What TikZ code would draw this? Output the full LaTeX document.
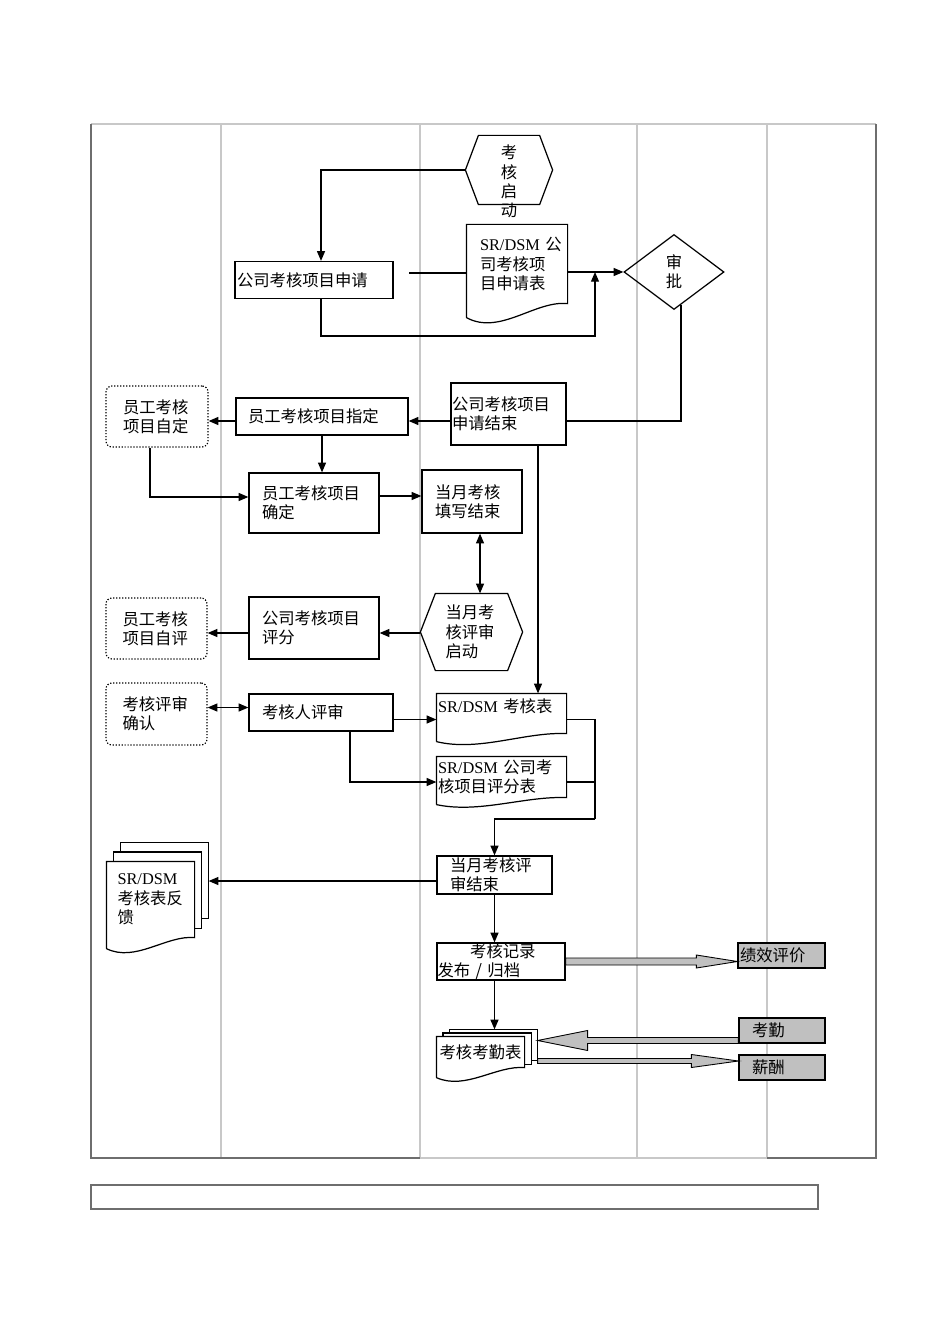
\documentclass[tikz,border=0pt]{standalone}
\usepackage{fontspec}
\setmainfont{Liberation Serif}
\newfontfamily\cjk{Noto Sans CJK SC}
\usepackage{tikz}
\usetikzlibrary{arrows.meta,calc,shapes.geometric}
\newlength\px
\setlength\px{0.02cm}
\definecolor{Lane}{HTML}{C8C8C8}
\definecolor{Frame}{HTML}{6E6E6E}
\definecolor{Shade}{HTML}{C0C0C0}
\newcommand{\en}[1]{{\rmfamily #1}}
% document outline with a wavy foot
\newcommand{\docwave}[2]{%
  \draw ($(#1.south west)+(0,#2)$) -- (#1.north west) -- (#1.north east) -- (#1.south east)
    .. controls ($(#1.south east)!0.32!(#1.south west)+(0,-0.25*#2)$) and ($(#1.south east)!0.67!(#1.south west)+(0,2.3*#2)$) .. ($(#1.south west)+(0,#2)$);}
% pages behind a document
\newcommand{\docpages}[3]{%
  \foreach \k in {1,2}{
    \draw ($(#1.north west)+(\k*#2,-\k*#3+#3)$) -- ($(#1.north west)+(\k*#2,-\k*#3)$)
      -- ($(#1.north east)+(\k*#2,-\k*#3)$) -- ($(#1.south east)+(\k*#2,-\k*#3)$)
      -- ($(#1.south east)+(\k*#2-#2,-\k*#3)$);
  }}
% hexagon outline round a node
\newcommand{\hexa}[2]{%
  \draw (#1.west) -- ($(#1.north west)+(#2,0)$) -- ($(#1.north east)+(-#2,0)$) -- (#1.east)
    -- ($(#1.south east)+(-#2,0)$) -- ($(#1.south west)+(#2,0)$) -- cycle;}
% wide grey arrow: from, tip, head offset, shaft half, head half
\newcommand{\blockarrow}[5]{%
  \draw[fill=Shade,line width=0.5pt] ($(#1)+(0,-#4)$) -- ($(#2)+(#3,-#4)$) -- ($(#2)+(#3,-#5)$) -- (#2)
    -- ($(#2)+(#3,#5)$) -- ($(#2)+(#3,#4)$) -- ($(#1)+(0,#4)$) -- cycle;}

\begin{document}
\begin{tikzpicture}[x=0.02cm,y=-0.02cm,line width=0.7pt,
    font=\cjk\fontsize{9.3pt}{11pt}\selectfont,
    box/.style={rectangle,draw,inner sep=0pt,align=left},
    selfbox/.style={rectangle,draw,densely dotted,rounded corners=6\px,inner sep=0pt,align=left},
    docnode/.style={rectangle,inner sep=0pt,align=left},
    greybox/.style={box,fill=Shade},
    arr/.style={-{Triangle[length=5.5pt,width=4.5pt]}},
    arrs/.style={{Triangle[length=5.5pt,width=4.5pt]}-{Triangle[length=5.5pt,width=4.5pt]}}
]
\useasboundingbox (0,0) rectangle (950,1344);
% lanes and frame
\foreach \x in {221,420,637,767}
  \draw[Lane,line width=0.6pt] (\x,124) -- (\x,1158);
\draw[Lane,line width=0.6pt] (91,124) -- (876,124);
\draw[Frame] (91,124) -- (91,1158) -- (420,1158);
\draw[Lane] (420,1158) -- (767,1158);
\draw[Frame] (767,1158) -- (876,1158) -- (876,124);
\draw[Frame] (91,1185) rectangle (818,1209);

% application
\node[docnode,minimum width=86\px,minimum height=68\px] (start) at (509,170)
  {\parbox[c][68\px][t]{20\px}{\centering\vspace*{9\px}考\\核\\启\\动}};
\hexa{start}{13}
\node[box,minimum width=158\px,minimum height=37\px,text width=154\px] (apply) at (314,280) {公司考核项目申请};
\node[docnode,minimum width=100\px,minimum height=78\px,text width=74\px] (appform) at (517,264) {\en{SR/DSM}~公\\司考核项\\目申请表};
\docwave{appform}{14}
\node[diamond,draw,inner sep=0pt,minimum width=100\px,minimum height=75\px,align=center] (appr) at (674,272) {审\\批};
\node[box,minimum width=115\px,minimum height=62\px,text width=113\px] (append) at (508.5,414) {公司考核项目\\申请结束};

% items
\node[box,minimum width=172\px,minimum height=37\px,text width=148\px] (assign) at (322,416.5) {员工考核项目指定};
\node[selfbox,minimum width=102\px,minimum height=61\px,text width=68\px] (selfset) at (157,416.5) {员工考核\\项目自定};
\node[box,minimum width=130\px,minimum height=60\px,text width=104\px] (confirm) at (314,503) {员工考核项目\\确定};
\node[box,minimum width=100\px,minimum height=63\px,text width=74\px] (fillend) at (472,501.5) {当月考核\\填写结束};

% review
\node[docnode,minimum width=101\px,minimum height=76\px,text width=52\px] (revstart) at (471.5,632) {当月考\\核评审\\启动};
\hexa{revstart}{15}
\node[box,minimum width=130\px,minimum height=62\px,text width=104\px] (score) at (314,628) {公司考核项目\\评分};
\node[selfbox,minimum width=101\px,minimum height=61\px,text width=68\px] (selfeval) at (156.5,628.5) {员工考核\\项目自评};
\node[selfbox,minimum width=101\px,minimum height=62\px,text width=68\px] (revconf) at (156.5,714) {考核评审\\确认};
\node[box,minimum width=144\px,minimum height=37\px,text width=118\px] (review) at (321,712.5) {考核人评审};
\node[docnode,minimum width=129\px,text height=18\px,text depth=21\px,text width=127\px] (srform) at (501.5,713.5) {\en{SR/DSM} 考核表};
\docwave{srform}{8}
\node[docnode,minimum width=129\px,minimum height=40\px,text width=127\px] (scoreform) at (501.5,777) {\en{SR/DSM} 公司考\\核项目评分表};
\docwave{scoreform}{7}
\node[box,minimum width=115\px,minimum height=38\px,text width=89\px] (revend) at (494.5,875) {当月考核评\\审结束};
\node[docnode,minimum width=87\px,minimum height=75\px,text width=66\px] (feedback) at (150.5,899.5) {\en{SR/DSM}\\考核表反\\馈};
\docwave{feedback}{11}
\docpages{feedback}{7}{9.5}

% records
\node[box,minimum width=128\px,minimum height=37\px,text width=127\px] (publish) at (501,961.5) {\hspace*{2em}考核记录\\发布 / 归档};
\node[docnode,minimum width=87\px,minimum height=30\px,align=center] (attform) at (480.5,1052) {考核考勤表};
\docwave{attform}{10}
\docpages{attform}{6.5}{3.5}
\node[greybox,minimum width=87\px,minimum height=25\px,text width=83\px] (perf) at (781.5,955.5) {绩效评价};
\node[greybox,minimum width=86\px,minimum height=25\px,text width=60\px] (att) at (782,1030.5) {考勤};
\node[greybox,minimum width=86\px,minimum height=25\px,text width=60\px] (pay) at (782,1067.5) {薪酬};

% connectors
\draw[arr] (start.west) -| ($(apply.north)+(7,0)$);
\coordinate (gap) at (409,273);
\draw (gap) -- (gap -| appform.west);
\draw[arr] (appform.east |- appr.west) -- (appr.west);
\coordinate (join) at (595,272);
\draw[arr] ($(apply.south)+(7,0)$) -- ++(0,37) -| (join);
\draw ($(appr.south)+(7,-5)$) |- ($(append.east)+(0,7)$);
\draw[arr] ($(append.west)+(0,7)$) coordinate (c1) -- (c1 -| assign.east);
\draw[arr] (c1 -| assign.west) -- (c1 -| selfset.east);
\draw[arr] (assign.south) -- (assign.south |- confirm.north);
\draw[arr] ($(selfset.south)+(-7,0)$) |- ($(confirm.west)+(0,-6)$);
\draw[arr] ($(confirm.east)+(0,-7)$) coordinate (c2) -- (c2 -| fillend.west);
\draw[arrs] ($(fillend.south)+(8,0)$) coordinate (c3) -- (c3 |- revstart.north);
\draw[arr] ($(revstart.west)+(0,1)$) coordinate (c4) -- (c4 -| score.east);
\draw[arr] (c4 -| score.west) -- (c4 -| selfeval.east);
\draw[arrs] ($(review.west)+(0,-5)$) coordinate (c5) -- (c5 -| revconf.east);
\draw[arr] ($(review.east)+(0,7)$) coordinate (c6) -- (c6 -| srform.west);
\draw[arr] ($(review.south)+(29,0)$) |- ($(scoreform.west)+(0,5)$);
\draw[arr] ($(append.south)+(29.5,0)$) coordinate (c7) -- (c7 |- srform.north);
\coordinate (merge) at (595,819);
\draw ($(srform.east)+(0,6)$) -| (merge);
\draw ($(scoreform.east)+(0,5)$) coordinate (c8) -- (c8 -| merge);
\draw[arr] (merge) -| (revend.north);
\draw[arr] ($(revend.west)+(0,6)$) coordinate (c9) -- ($(c9 -| feedback.east)+(14,0)$);
\draw[arr] (revend.south) -- (revend.south |- publish.north);
\draw[arr] (revend.south |- publish.south) coordinate (c10) -- ($(c10 |- attform.north)+(0,-7)$);
\coordinate (t1) at (publish.east -| perf.west);
\blockarrow{publish.east}{t1}{-41}{3.5}{6.5}
\coordinate (s2) at ($(att.west)+(0,10)$);
\coordinate (t2) at ($(s2 -| attform.east)+(13,0)$);
\blockarrow{s2}{t2}{50}{3}{10}
\coordinate (s3) at ($(attform.east)+(13,9)$);
\coordinate (t3) at (s3 -| pay.west);
\blockarrow{s3}{t3}{-47}{2.5}{6.5}
\end{tikzpicture}
\end{document}
